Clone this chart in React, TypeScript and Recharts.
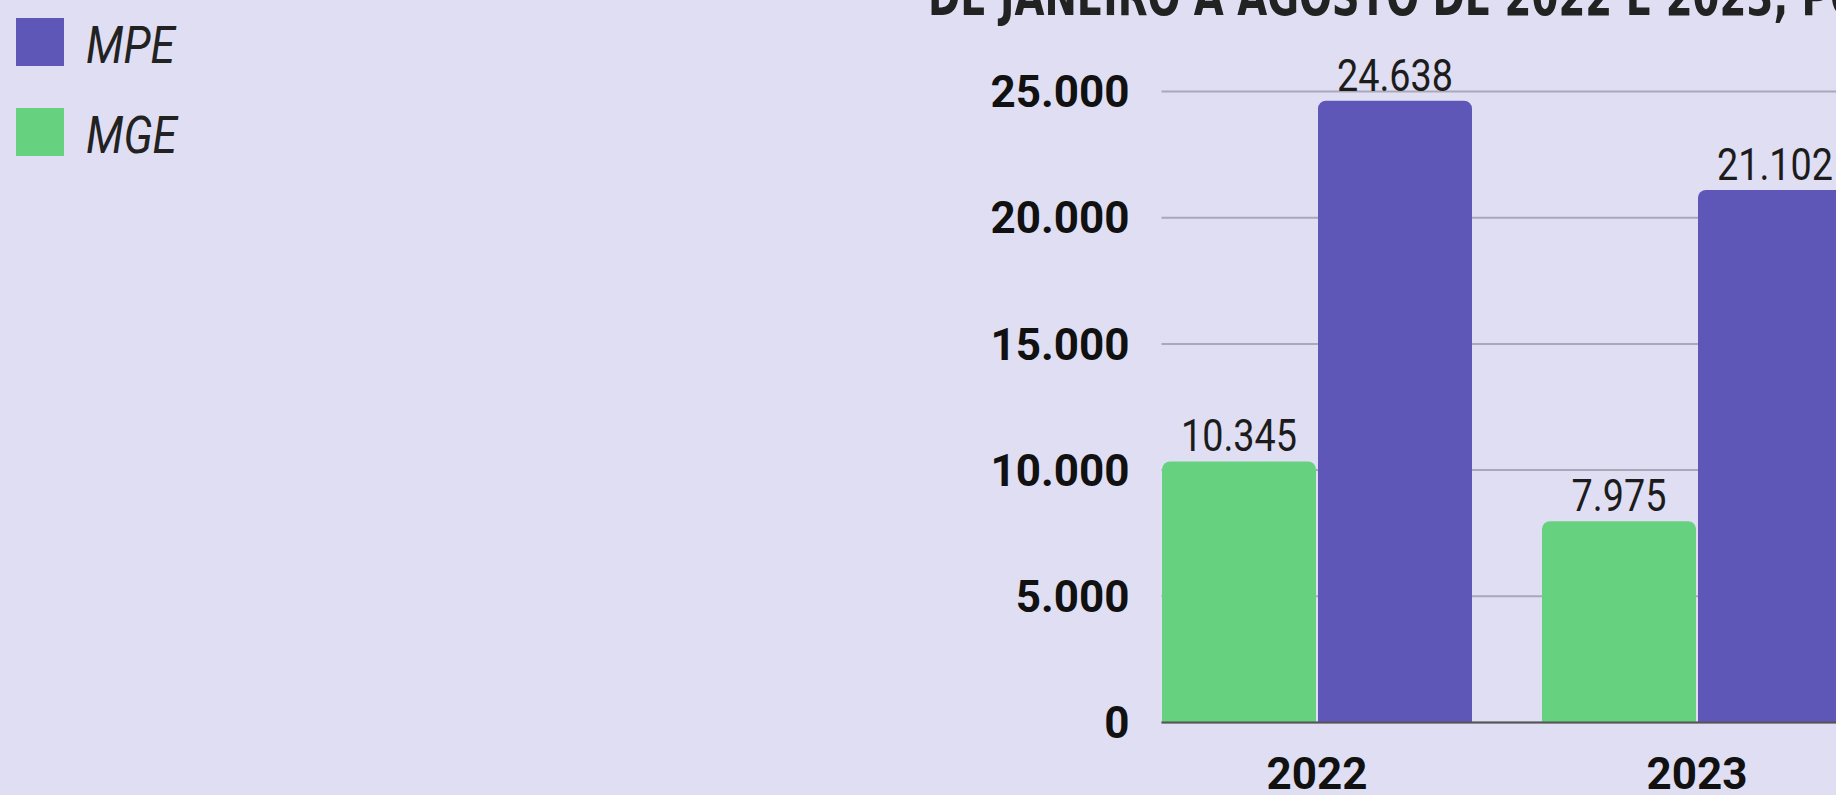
import React from 'react';
import { BarChart, Bar, XAxis, YAxis, CartesianGrid, LabelList, Legend } from 'recharts';

const categories = ['2022', '2023'];
const mgeValues = [10345, 7975];
const mpeValues = [24638, 21102];
const yTicks = [0, 5000, 10000, 15000, 20000, 25000];
const legendOrder = ['MPE', 'MGE'];
const titleLine = 'DE JANEIRO A AGOSTO DE 2022 E 2023, POR PORTE';

const BG = '#E0DEF2';
const PURPLE = '#5F57B8';
const GREEN = '#66D17F';
const colorOf: Record<string, string> = { MPE: PURPLE, MGE: GREEN };

const COND = "'DejaVu Sans Condensed', 'DejaVu Sans', sans-serif";
const SANS = "Roboto, 'Noto Sans', sans-serif";

const fmt = (v: number) => String(Math.round(v)).replace(/\B(?=(\d{3})+(?!\d))/g, '.');

const LegendContent = () => (
  <div style={{ position: 'relative' }}>
    {legendOrder.map((name, i) => (
      <div key={name} style={{ position: 'absolute', left: 0, top: i * 90, height: 48, display: 'flex', alignItems: 'center' }}>
        <div style={{ width: 48, height: 48, background: colorOf[name] }} />
        <span
          style={{
            marginLeft: 22,
            fontFamily: SANS,
            fontStyle: 'italic',
            fontSize: 52,
            color: '#222',
            lineHeight: '48px',
            position: 'relative',
            top: 4,
            display: 'inline-block',
            transform: 'scaleX(0.85)',
            transformOrigin: 'left center',
            whiteSpace: 'nowrap',
          }}
        >
          {name}
        </span>
      </div>
    ))}
  </div>
);

const ValueLabel = (props: any) => {
  const { x, y, width, value } = props;
  const cx = Number(x) + Number(width) / 2;
  const by = Number(y) - 10;
  return (
    <text
      transform={`translate(${cx},${by}) scale(0.84,1)`}
      textAnchor="middle"
      fontFamily={SANS}
      fontSize={45}
      fill="#1c1c1c"
    >
      {fmt(Number(value))}
    </text>
  );
};

export default function App() {
  const data = categories.map((c, i) => ({ year: c, MGE: mgeValues[i], MPE: mpeValues[i] }));
  return (
    <div style={{ position: 'fixed', left: 0, top: 0, width: 1836, height: 795, overflow: 'hidden', background: BG }}>
      <BarChart
        width={1887}
        height={795}
        data={data}
        margin={{ top: 91.5, right: 0, bottom: 0, left: 0 }}
        barGap={2}
        barCategoryGap={35}
      >
        <text transform="translate(928,15) scale(0.797,1)" fontFamily={COND} fontWeight={700} fontSize={54} fill="#222">{titleLine}</text>
        <CartesianGrid horizontal vertical={false} stroke="#A9A7B9" strokeWidth={2} />
        <XAxis
          dataKey="year"
          height={72.5}
          padding={{ left: -34.5, right: 0 }}
          tickSize={0}
          tickMargin={35}
          axisLine={{ stroke: '#555', strokeWidth: 2 }}
          tickLine={false}
          tick={{ fontSize: 44, fontWeight: 700, fill: '#111', fontFamily: SANS }}
        />
        <YAxis
          width={1161.5}
          domain={[0, 25000]}
          ticks={yTicks}
          tickFormatter={fmt}
          tickSize={0}
          tickMargin={32}
          axisLine={false}
          tickLine={false}
          tick={{ fontSize: 44, fontWeight: 700, fill: '#111', fontFamily: SANS }}
        />
        <Legend
          layout="vertical"
          align="center"
          verticalAlign="middle"
          wrapperStyle={{ top: 18, left: 16, width: 300, height: 160 }}
          content={<LegendContent />}
        />
        <Bar dataKey="MGE" fill={GREEN} radius={[8, 8, 0, 0]} isAnimationActive={false}>
          <LabelList dataKey="MGE" content={<ValueLabel />} />
        </Bar>
        <Bar dataKey="MPE" fill={PURPLE} radius={[8, 8, 0, 0]} isAnimationActive={false}>
          <LabelList dataKey="MPE" content={<ValueLabel />} />
        </Bar>
      </BarChart>
    </div>
  );
}
